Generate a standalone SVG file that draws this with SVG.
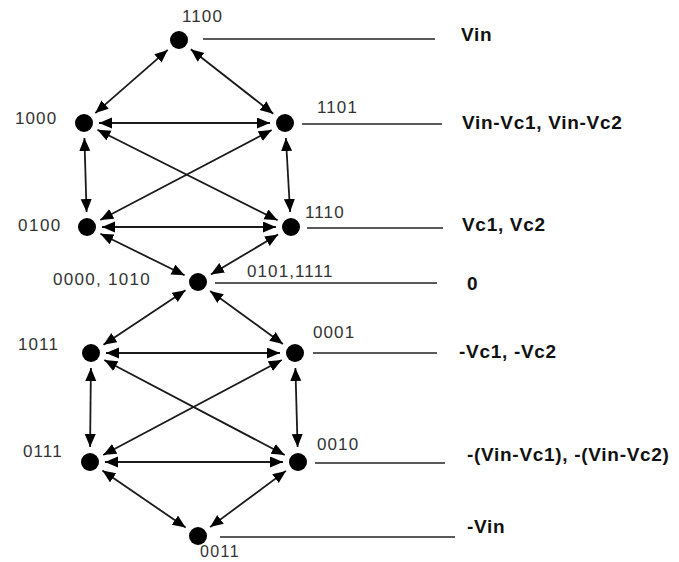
<svg xmlns="http://www.w3.org/2000/svg" width="679" height="562" viewBox="0 0 679 562">
<style>
.dot{fill:#000}
.e{stroke:#1a1a1a;stroke-width:1.8;fill:none;marker-start:url(#ah);marker-end:url(#ah)}
.lv{stroke:#222;stroke-width:1.5}
.nl{font-family:"Liberation Sans",Arial,sans-serif;font-size:17px;fill:#333;letter-spacing:1.1px}
.vl{font-family:"Liberation Sans",Arial,sans-serif;font-size:19px;font-weight:bold;fill:#111;letter-spacing:0.7px}
</style>
<defs>
<marker id="ah" markerUnits="userSpaceOnUse" markerWidth="14" markerHeight="12" refX="13" refY="5.5" orient="auto-start-reverse" viewBox="0 0 14 12">
<path d="M0,0 L13,5.5 L0,11 z" fill="#000"/>
</marker>
</defs>
<rect width="679" height="562" fill="#fff"/>
<g id="connectors">
<line class="e" x1="167.7" y1="49.9" x2="95.3" y2="113.1"/>
<line class="e" x1="190.8" y1="49.3" x2="273.2" y2="113.7"/>
<line class="e" x1="99" y1="123" x2="270" y2="123"/>
<line class="e" x1="84.4" y1="138" x2="86.6" y2="212"/>
<line class="e" x1="285.9" y1="138" x2="290.1" y2="212"/>
<line class="e" x1="97.4" y1="129.7" x2="277.6" y2="220.3"/>
<line class="e" x1="271.7" y1="130" x2="100.3" y2="220"/>
<line class="e" x1="102" y1="227" x2="276" y2="227"/>
<line class="e" x1="100.4" y1="233.7" x2="184.6" y2="275.3"/>
<line class="e" x1="278.1" y1="234.6" x2="210.9" y2="274.4"/>
<line class="e" x1="185.5" y1="290.3" x2="103.5" y2="344.7"/>
<line class="e" x1="210.1" y1="290.9" x2="282.9" y2="344.1"/>
<line class="e" x1="106" y1="353" x2="280" y2="353"/>
<line class="e" x1="90.9" y1="368" x2="90.1" y2="447"/>
<line class="e" x1="295.4" y1="368" x2="297.6" y2="447"/>
<line class="e" x1="104.3" y1="360" x2="284.7" y2="455"/>
<line class="e" x1="281.8" y1="360" x2="103.2" y2="455"/>
<line class="e" x1="105" y1="462" x2="283" y2="462"/>
<line class="e" x1="102.4" y1="470.5" x2="185.6" y2="527.5"/>
<line class="e" x1="285.9" y1="470.9" x2="210.1" y2="527.1"/>
</g>
<g id="levels">
<line class="lv" x1="203" y1="39" x2="435" y2="39"/>
<line class="lv" x1="302" y1="124" x2="442" y2="124"/>
<line class="lv" x1="307" y1="228" x2="443" y2="228"/>
<line class="lv" x1="215" y1="283" x2="437" y2="283"/>
<line class="lv" x1="313" y1="353" x2="437" y2="353"/>
<line class="lv" x1="315" y1="463" x2="445" y2="463"/>
<line class="lv" x1="220" y1="537" x2="455" y2="537"/>
<text class="vl" x="461" y="41">Vin</text>
<text class="vl" x="462" y="129">Vin-Vc1, Vin-Vc2</text>
<text class="vl" x="462" y="231">Vc1, Vc2</text>
<text class="vl" x="467" y="290">0</text>
<text class="vl" x="459" y="358">-Vc1, -Vc2</text>
<text class="vl" x="467" y="461">-(Vin-Vc1), -(Vin-Vc2)</text>
<text class="vl" x="467" y="533">-Vin</text>
</g>
<g id="n1100"><circle class="dot" cx="179" cy="40" r="9"/><text class="nl" x="182" y="22">1100</text></g>
<g id="n1000"><circle class="dot" cx="84" cy="123" r="9"/><text class="nl" x="15" y="124">1000</text></g>
<g id="n1101"><circle class="dot" cx="285" cy="123" r="9"/><text class="nl" x="317" y="113">1101</text></g>
<g id="n0100"><circle class="dot" cx="87" cy="227" r="9"/><text class="nl" x="18" y="231" style="letter-spacing:1.5px">0100</text></g>
<g id="n1110"><circle class="dot" cx="291" cy="227" r="9"/><text class="nl" x="305" y="218">1110</text></g>
<g id="n0000"><circle class="dot" cx="198" cy="282" r="9"/><text class="nl" x="53" y="285" style="letter-spacing:1.3px">0000, 1010</text><text class="nl" x="247" y="277">0101,1111</text></g>
<g id="n1011"><circle class="dot" cx="91" cy="353" r="9"/><text class="nl" x="18" y="350">1011</text></g>
<g id="n0001"><circle class="dot" cx="295" cy="353" r="9"/><text class="nl" x="313" y="338">0001</text></g>
<g id="n0111"><circle class="dot" cx="90" cy="462" r="9"/><text class="nl" x="23" y="457">0111</text></g>
<g id="n0010"><circle class="dot" cx="298" cy="462" r="9"/><text class="nl" x="317" y="450">0010</text></g>
<g id="n0011"><circle class="dot" cx="198" cy="536" r="9"/><text class="nl" x="200" y="557" style="font-size:16px;letter-spacing:1.4px">0011</text></g>
</svg>
